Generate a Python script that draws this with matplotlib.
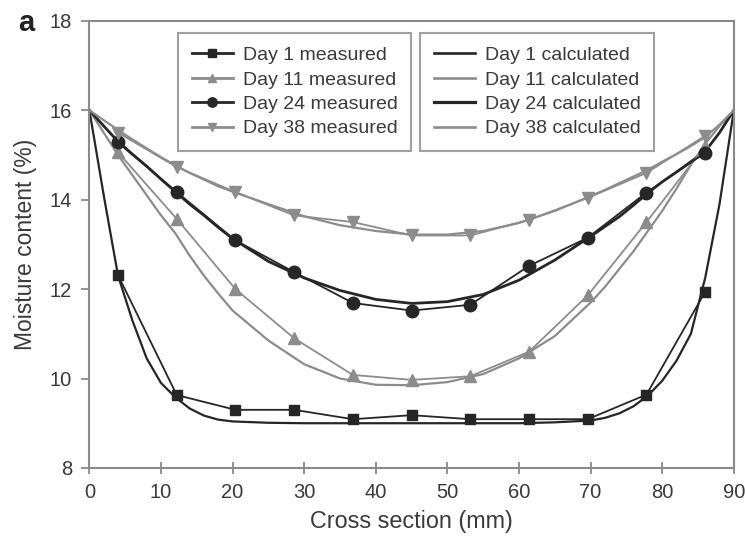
import matplotlib
matplotlib.use("Agg")
import matplotlib.pyplot as plt
from matplotlib.lines import Line2D

plt.rcParams['font.family'] = ['Liberation Sans', 'DejaVu Sans']

# Measured positions (mm) and moisture contents (%)
meas_x = [4, 12.2, 20.4, 28.6, 36.8, 45, 53.2, 61.4, 69.6, 77.8, 86]
day1_meas = [12.31, 9.63, 9.30, 9.30, 9.09, 9.18, 9.09, 9.09, 9.09, 9.64, 11.94]
day11_meas = [15.06, 13.57, 12.00, 10.90, 10.08, 9.97, 10.05, 10.60, 11.86, 13.50, 15.20]
day24_meas = [15.28, 14.17, 13.09, 12.38, 11.69, 11.52, 11.65, 12.52, 13.15, 14.16, 15.05]
day38_meas = [15.50, 14.73, 14.17, 13.65, 13.50, 13.20, 13.20, 13.55, 14.04, 14.60, 15.43]

# Calculated profiles
calc_x = [0, 2, 4, 6, 8, 10, 12, 14, 16, 18, 20, 25, 30, 35, 40, 45, 50, 55, 60, 65,
          70, 72, 74, 76, 78, 80, 82, 84, 86, 88, 90]
day1_calc = [16.0, 14.1, 12.3, 11.3, 10.45, 9.9, 9.58, 9.33, 9.17, 9.08, 9.04, 9.01, 9.0,
             9.0, 9.0, 9.0, 9.0, 9.0, 9.0, 9.02, 9.06, 9.12, 9.22, 9.38, 9.62, 9.95,
             10.4, 11.0, 12.25, 13.9, 16.0]
day11_calc = [16.0, 15.5, 15.0, 14.55, 14.1, 13.65, 13.25, 12.75, 12.3, 11.9, 11.52, 10.85,
              10.32, 10.0, 9.86, 9.85, 9.92, 10.1, 10.45, 10.95, 11.7, 12.05, 12.45,
              12.85, 13.3, 13.75, 14.25, 14.78, 15.25, 15.65, 16.0]
day24_calc = [16.0, 15.65, 15.3, 15.02, 14.75, 14.46, 14.18, 13.9, 13.65, 13.38, 13.13,
              12.62, 12.25, 11.97, 11.77, 11.68, 11.72, 11.88, 12.2, 12.65, 13.18, 13.4,
              13.62, 13.88, 14.15, 14.4, 14.62, 14.85, 15.08, 15.5, 16.0]
day38_calc = [16.0, 15.78, 15.56, 15.35, 15.15, 14.95, 14.77, 14.6, 14.45, 14.3, 14.18,
              13.9, 13.63, 13.43, 13.3, 13.22, 13.22, 13.3, 13.48, 13.75, 14.08, 14.22,
              14.37, 14.52, 14.67, 14.85, 15.02, 15.2, 15.4, 15.68, 16.0]

meas_labels = ['Day 1 measured', 'Day 11 measured', 'Day 24 measured', 'Day 38 measured']
calc_labels = ['Day 1 calculated', 'Day 11 calculated', 'Day 24 calculated', 'Day 38 calculated']
x_ticks = [0, 10, 20, 30, 40, 50, 60, 70, 80, 90]
y_ticks = [8, 10, 12, 14, 16, 18]

DARK = '#262626'
GRAY = '#8c8c8c'
FRAME = '#8a8a8a'
TEXT = '#3a3a3a'

fig = plt.figure(figsize=(7.45, 5.36), dpi=100)
ax = fig.add_axes([0.12, 0.127, 0.865, 0.834])

styles = [
    (day1_meas, day1_calc, DARK, 's', 7, 1.6),
    (day11_meas, day11_calc, GRAY, '^', 8, 1.6),
    (day24_meas, day24_calc, DARK, 'o', 9, 2.0),
    (day38_meas, day38_calc, GRAY, 'v', 8, 1.6),
]

meas_handles = []
calc_handles = []
for (m, c, col, mk, ms, clw), ml, cl in zip(styles, meas_labels, calc_labels):
    ax.plot(calc_x, c, color=col, lw=clw, zorder=2)
    ax.plot(meas_x, m, color=col, lw=1.3, marker=mk, ms=ms, mfc=col, mec=col, zorder=3)
    meas_handles.append(Line2D([], [], color=col, lw=2.0, marker=mk, ms=ms * 0.75,
                               mfc=col, mec=col, label=ml))
    calc_handles.append(Line2D([], [], color=col, lw=clw + 0.3, label=cl))

ax.set_xlim(0, 90)
ax.set_ylim(8, 18)
ax.set_xticks(x_ticks)
ax.set_yticks(y_ticks)
ax.tick_params(axis='x', direction='inout', length=8, width=1.3, color=FRAME,
               labelsize=14.5, labelcolor=TEXT, pad=7)
ax.tick_params(axis='y', direction='out', length=6, width=1.3, color=FRAME,
               labelsize=14.5, labelcolor=TEXT, pad=6.5)
for s in ax.spines.values():
    s.set_color(FRAME)
    s.set_linewidth(1.5)

ax.set_xlabel('Cross section (mm)', fontsize=16.8, color=TEXT, labelpad=5.5)
ax.set_ylabel('Moisture content (%)', fontsize=16.5, color=TEXT, labelpad=9)

leg_kw = dict(loc='upper left', fontsize=14, frameon=True, fancybox=False,
              handlelength=2.1, handletextpad=0.5, labelspacing=0.35,
              borderpad=0.72, borderaxespad=0, numpoints=1)
leg1 = ax.legend(handles=meas_handles, bbox_to_anchor=(0.1375, 0.974), **leg_kw)
leg1.get_frame().set_edgecolor(FRAME)
leg1.get_frame().set_linewidth(1.5)
for t in leg1.get_texts():
    t.set_color(TEXT)
ax.add_artist(leg1)
leg2 = ax.legend(handles=calc_handles, bbox_to_anchor=(0.513, 0.974), **leg_kw)
leg2.get_frame().set_edgecolor(FRAME)
leg2.get_frame().set_linewidth(1.5)
for t in leg2.get_texts():
    t.set_color(TEXT)

fig.text(0.024, 0.957, 'a', fontsize=21, fontweight='bold', color='#222222',
         ha='left', va='center')

fig.savefig('out.png', dpi=100)
